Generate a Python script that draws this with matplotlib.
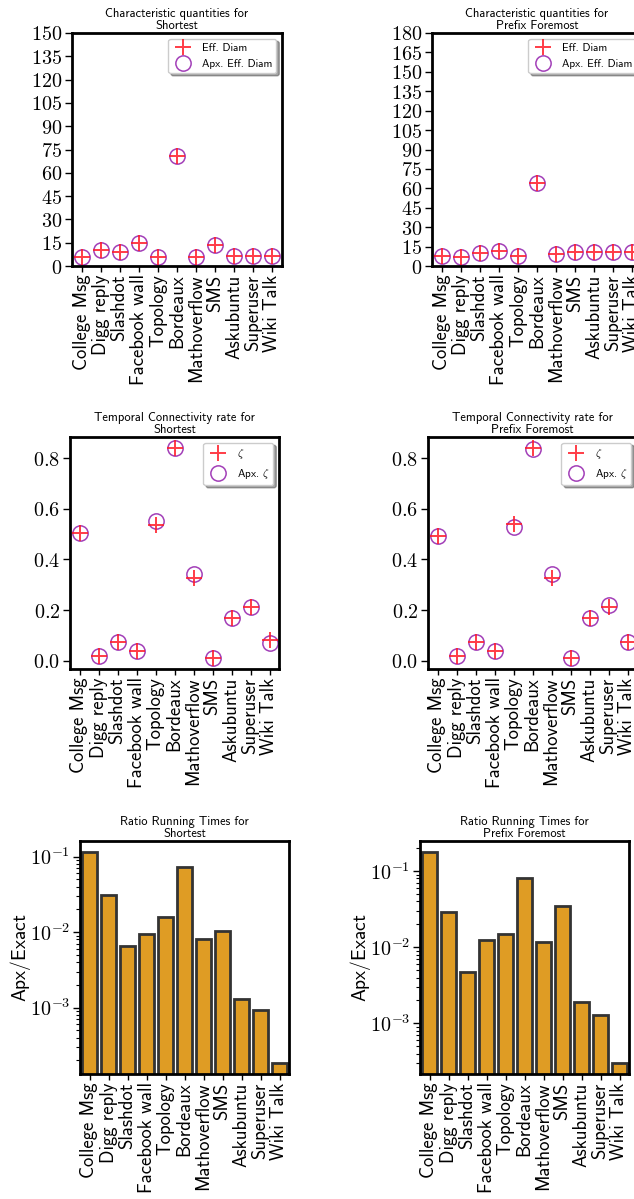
import numpy as np
import matplotlib
matplotlib.use("Agg")
import matplotlib.pyplot as plt
from matplotlib.ticker import FuncFormatter, FixedLocator, LogLocator, NullFormatter

plt.rcParams["mathtext.fontset"] = "cm"

# ---- data ----
datasets = ["College Msg", "Digg reply", "Slashdot", "Facebook wall", "Topology",
            "Bordeaux", "Mathoverflow", "SMS", "Askubuntu", "Superuser", "Wiki Talk"]

diam_short = [6, 10, 9, 15, 6, 71, 6, 13.5, 6.5, 6.5, 6.2]
apx_diam_short = [6, 10, 9, 15, 6, 71, 6, 13.5, 6.5, 6.5, 6.2]
diam_pref = [7.5, 7, 10.3, 11.6, 7.5, 64.3, 9, 10.8, 10.8, 10.8, 10.8]
apx_diam_pref = [7.5, 7, 10.3, 11.6, 7.5, 64.3, 9, 10.8, 10.8, 10.8, 10.8]

zeta_short = [0.503, 0.017, 0.073, 0.040, 0.537, 0.842, 0.325, 0.009, 0.169, 0.213, 0.083]
apx_zeta_short = [0.503, 0.017, 0.073, 0.040, 0.551, 0.842, 0.341, 0.009, 0.169, 0.213, 0.070]
zeta_pref = [0.494, 0.017, 0.073, 0.037, 0.539, 0.842, 0.327, 0.009, 0.169, 0.213, 0.075]
apx_zeta_pref = [0.494, 0.017, 0.073, 0.037, 0.528, 0.836, 0.341, 0.009, 0.169, 0.222, 0.075]

ratio_short = [0.117, 0.0309, 0.00658, 0.0095, 0.0157, 0.0721, 0.00815, 0.0104,
               0.00132, 0.000922, 0.000182]
ratio_pref = [0.180, 0.0294, 0.00473, 0.01225, 0.0151, 0.0801, 0.0118, 0.0343,
              0.00191, 0.0013, 0.000298]

# ---- style ----
W, H = 634, 1199
red = (1.0, 0.1, 0.15, 0.85)
purple = "#a23fb8"
bar_color = "#df9c24"
sans = "cmss10"

fig = plt.figure(figsize=(W / 100, H / 100), dpi=100)


def box(l, t, r, b):
    return [l / W, 1 - b / H, (r - l) / W, (b - t) / H]


def style_axes(ax, title):
    for s in ax.spines.values():
        s.set_linewidth(2)
    ax.set_title(title, fontsize=9, family=sans, pad=3, linespacing=1.0)
    x = np.arange(len(datasets))
    ax.set_xticks(x)
    ax.set_xticklabels(datasets, rotation=90, family=sans, fontsize=13.5)
    ax.tick_params(axis="x", length=4, width=1, pad=2)
    ax.tick_params(axis="y", length=5, width=1, labelsize=14.5, pad=2)
    for lbl in ax.get_xticklabels():
        lbl.set_linespacing(0.9)


def scatter_panel(rect, title, a, b, la, lb, ticks, fmt):
    ax = fig.add_axes(box(*rect))
    x = np.arange(len(datasets))
    ax.plot(x, a, "+", ms=11, mew=1.4, color=red, label=la, zorder=3)
    ax.plot(x, b, "o", ms=11, mfc="none", mew=1.1, mec=purple, label=lb, zorder=2)
    if ticks is not None:
        ax.set_ylim(ticks[0], ticks[-1])
        ax.yaxis.set_major_locator(FixedLocator(ticks))
    ax.yaxis.set_major_formatter(FuncFormatter(fmt))
    ax.margins(x=0.05)
    style_axes(ax, title)
    ax.legend(loc="upper right", prop={"family": sans, "size": 8},
              shadow=True, fancybox=True, handlelength=1.8,
              borderpad=0.4, labelspacing=0.5, handletextpad=0.8)
    return ax


def bar_panel(rect, title, vals):
    ax = fig.add_axes(box(*rect))
    x = np.arange(len(datasets))
    ax.bar(x, vals, width=0.8, color=bar_color, edgecolor="#333333", linewidth=2)
    ax.set_yscale("log")
    lo, hi = np.log10(min(vals)), np.log10(max(vals))
    m = 0.05 * (hi - lo)
    ax.set_ylim(10 ** (lo - m), 10 ** (hi + m))
    ax.set_xlim(-0.5, len(datasets) - 0.5)
    ax.yaxis.set_major_locator(LogLocator(base=10))
    ax.yaxis.set_major_formatter(FuncFormatter(lambda v, p: r"$10^{%d}$" % round(np.log10(v))))
    ax.yaxis.set_minor_locator(LogLocator(base=10, subs=np.arange(2, 10)))
    ax.yaxis.set_minor_formatter(NullFormatter())
    ax.tick_params(axis="y", which="minor", length=3, width=0.8)
    style_axes(ax, title)
    ax.set_ylabel(r"Apx$/$Exact", family=sans, fontsize=14, labelpad=-2)
    return ax


int_fmt = lambda v, p: r"$%d$" % v
dec_fmt = lambda v, p: r"$%.1f$" % v

scatter_panel((72, 33, 282, 266), "Characteristic quantities for\nShortest",
              diam_short, apx_diam_short, "Eff. Diam", "Apx. Eff. Diam",
              np.arange(0, 151, 15), int_fmt)
scatter_panel((432, 33, 642, 266), "Characteristic quantities for\nPrefix Foremost",
              diam_pref, apx_diam_pref, "Eff. Diam", "Apx. Eff. Diam",
              np.arange(0, 181, 15), int_fmt)

ax3 = scatter_panel((70, 437, 279, 669), "Temporal Connectivity rate for\nShortest",
                    zeta_short, apx_zeta_short, r"$\zeta$", r"Apx. $\zeta$", None, dec_fmt)
ax3.yaxis.set_major_locator(FixedLocator([0, 0.2, 0.4, 0.6, 0.8]))
ax4 = scatter_panel((428, 437, 637, 669), "Temporal Connectivity rate for\nPrefix Foremost",
                    zeta_pref, apx_zeta_pref, r"$\zeta$", r"Apx. $\zeta$", None, dec_fmt)
ax4.yaxis.set_major_locator(FixedLocator([0, 0.2, 0.4, 0.6, 0.8]))

bar_panel((80, 841, 289, 1074), "Ratio Running Times for\nShortest", ratio_short)
bar_panel((420, 841, 629, 1074), "Ratio Running Times for\nPrefix Foremost", ratio_pref)

fig.savefig("out.png", dpi=100)
